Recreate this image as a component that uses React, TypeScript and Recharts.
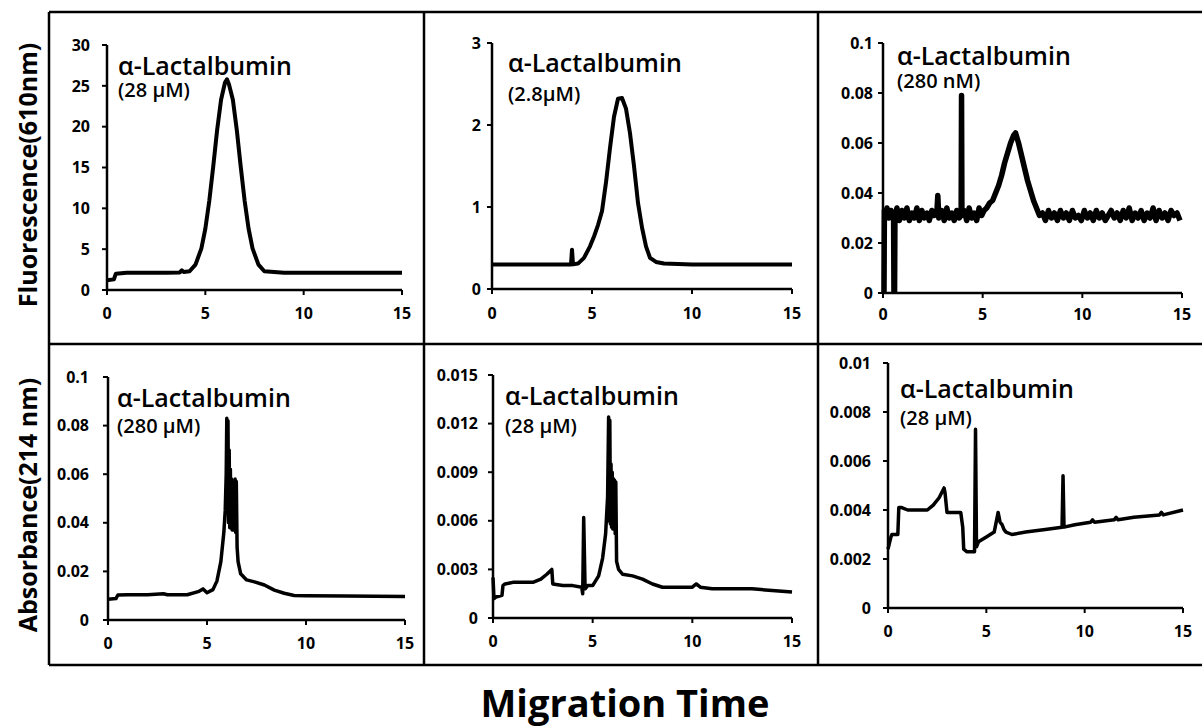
import { LineChart, Line, XAxis, YAxis } from 'recharts';

// Shared time axis (minutes)
const timeTicks = [0, 5, 10, 15];

// Fluorescence, 28 µM
const fl28Time = [0, 0.35, 0.45, 1, 2, 3, 3.7, 3.8, 3.9, 4.2, 4.5, 4.8, 5.0, 5.2, 5.4, 5.6, 5.8, 6.0, 6.1, 6.2, 6.4, 6.6, 6.8, 7.0, 7.2, 7.4, 7.7, 8.0, 9, 10, 12, 15];
const fl28Signal = [1.2, 1.3, 2.0, 2.1, 2.1, 2.1, 2.15, 2.4, 2.2, 2.3, 3.1, 5.1, 7.5, 10.9, 15.1, 19.6, 23.3, 25.4, 25.8, 25.2, 23.3, 19.6, 15.1, 10.9, 7.5, 5.1, 3.1, 2.3, 2.1, 2.1, 2.1, 2.1];
const fl28Ticks = [0, 5, 10, 15, 20, 25, 30];

// Fluorescence, 2.8 µM
const fl2p8Time = [0, 1, 2, 3, 3.95, 4.0, 4.05, 4.3, 4.6, 4.9, 5.1, 5.3, 5.5, 5.7, 5.9, 6.1, 6.3, 6.5, 6.7, 6.9, 7.1, 7.3, 7.5, 7.7, 7.9, 8.2, 8.6, 10, 12, 15];
const fl2p8Signal = [0.3, 0.3, 0.3, 0.3, 0.3, 0.48, 0.3, 0.31, 0.38, 0.52, 0.64, 0.78, 0.95, 1.3, 1.72, 2.1, 2.32, 2.33, 2.2, 1.9, 1.5, 1.05, 0.75, 0.52, 0.38, 0.33, 0.31, 0.3, 0.3, 0.3];
const fl2p8Ticks = [0, 1, 2, 3];

// Fluorescence, 280 nM (noisy baseline)
const fl280Time = [
  0.05, 0.07, 0.12, 0.2, 0.3, 0.4, 0.5, 0.53, 0.55, 0.58, 0.6, 0.7, 0.82, 0.95, 1.07, 1.2, 1.32, 1.45, 1.57, 1.7, 1.82,
  1.95, 2.07, 2.2, 2.32, 2.45, 2.57, 2.7, 2.75, 2.8, 2.95, 3.07, 3.2, 3.32, 3.45, 3.57, 3.7, 3.82, 3.92, 3.94, 3.96, 4.07,
  4.2, 4.32, 4.45, 4.57, 4.7, 4.82, 4.95, 5.07, 5.2, 5.35, 5.5, 5.65, 5.8, 5.95, 6.1, 6.25, 6.4, 6.55, 6.65, 6.8, 6.95,
  7.1, 7.25, 7.4, 7.55, 7.7, 7.85, 8.0, 8.15, 8.3, 8.45, 8.6, 8.75, 8.9, 9.05, 9.2, 9.35, 9.5, 9.65, 9.8, 9.95, 10.1,
  10.25, 10.4, 10.55, 10.7, 10.85, 11.0, 11.15, 11.3, 11.45, 11.6, 11.75, 11.9, 12.05, 12.2, 12.35, 12.5, 12.65, 12.8,
  12.95, 13.1, 13.25, 13.4, 13.55, 13.7, 13.85, 14.0, 14.15, 14.3, 14.45, 14.6, 14.75, 14.9, 15.0,
];
const fl280Signal = [
  0, 0.033, 0.031, 0.034, 0.03, 0.033, 0.031, 0.032, 0, 0, 0.031, 0.034, 0.029, 0.033, 0.03, 0.034, 0.029, 0.032, 0.03,
  0.034, 0.029, 0.033, 0.03, 0.032, 0.029, 0.033, 0.031, 0.032, 0.039, 0.03, 0.033, 0.029, 0.034, 0.03, 0.032, 0.029,
  0.033, 0.03, 0.031, 0.079, 0.031, 0.033, 0.029, 0.034, 0.03, 0.032, 0.029, 0.034, 0.031, 0.033, 0.034, 0.036, 0.037,
  0.04, 0.043, 0.047, 0.052, 0.056, 0.06, 0.063, 0.064, 0.06, 0.055, 0.05, 0.045, 0.041, 0.037, 0.034, 0.031, 0.032,
  0.029, 0.033, 0.03, 0.032, 0.029, 0.033, 0.03, 0.032, 0.029, 0.033, 0.03, 0.031, 0.029, 0.033, 0.03, 0.032, 0.029,
  0.033, 0.03, 0.032, 0.029, 0.031, 0.033, 0.03, 0.032, 0.029, 0.033, 0.03, 0.034, 0.029, 0.032, 0.03, 0.033, 0.029,
  0.032, 0.03, 0.034, 0.029, 0.033, 0.03, 0.032, 0.029, 0.033, 0.031, 0.032, 0.029,
];
const fl280Ticks = [0, 0.02, 0.04, 0.06, 0.08, 0.1];

// Absorbance, 280 µM
const abs280Time = [0, 0.4, 0.5, 1, 2, 2.8, 3.0, 4, 4.6, 4.8, 5.0, 5.3, 5.5, 5.7, 5.85, 5.92, 5.97, 6.0, 6.03, 6.06, 6.09, 6.12, 6.15, 6.18, 6.21, 6.24, 6.27, 6.3, 6.33, 6.36, 6.39, 6.42, 6.45, 6.48, 6.52, 6.57, 6.7, 7.0, 7.4, 7.9, 8.4, 8.9, 9.4, 10, 12, 15];
const abs280Signal = [0.0085, 0.0088, 0.0103, 0.0104, 0.0104, 0.0108, 0.0104, 0.0104, 0.0118, 0.0128, 0.0112, 0.0125, 0.016, 0.024, 0.036, 0.045, 0.06, 0.083, 0.05, 0.082, 0.04, 0.07, 0.038, 0.062, 0.039, 0.058, 0.037, 0.056, 0.038, 0.055, 0.037, 0.058, 0.036, 0.057, 0.03, 0.024, 0.019, 0.0165, 0.0157, 0.0144, 0.0123, 0.011, 0.0101, 0.01, 0.0099, 0.0097];
const abs280Ticks = [0, 0.02, 0.04, 0.06, 0.08, 0.1];

// Absorbance, 28 µM
const abs28Time = [0, 0.05, 0.15, 0.45, 0.5, 0.6, 1, 1.5, 2.0, 2.4, 2.7, 2.95, 3.0, 3.5, 4.0, 4.45, 4.5, 4.55, 4.62, 4.75, 5.0, 5.3, 5.5, 5.65, 5.75, 5.8, 5.83, 5.86, 5.89, 5.92, 5.95, 5.98, 6.01, 6.04, 6.07, 6.1, 6.13, 6.16, 6.2, 6.3, 6.5, 7.0, 7.5, 8.0, 8.5, 9, 10, 10.2, 10.4, 11, 12, 13, 14, 15];
const abs28Signal = [0.0025, 0.0012, 0.0013, 0.0014, 0.002, 0.0021, 0.0022, 0.0022, 0.0022, 0.0024, 0.0027, 0.003, 0.0021, 0.002, 0.002, 0.0019, 0.0015, 0.0062, 0.0018, 0.002, 0.002, 0.0026, 0.0037, 0.0052, 0.0075, 0.0124, 0.006, 0.0122, 0.0058, 0.0095, 0.0056, 0.009, 0.0055, 0.0086, 0.0055, 0.0085, 0.0052, 0.0084, 0.0035, 0.003, 0.0027, 0.0026, 0.0024, 0.0021, 0.0019, 0.0019, 0.0019, 0.0021, 0.0019, 0.0018, 0.0018, 0.0018, 0.0017, 0.0016];
const abs28Ticks = [0, 0.003, 0.006, 0.009, 0.012, 0.015];

// Absorbance, 28 µM (second run)
const abs28bTime = [0, 0.15, 0.2, 0.5, 0.55, 0.7, 1.0, 1.5, 2.0, 2.3, 2.6, 2.85, 2.9, 3.0, 3.5, 3.7, 3.8, 3.85, 4.0, 4.3, 4.4, 4.45, 4.5, 4.55, 4.6, 5.0, 5.4, 5.6, 5.7, 5.8, 5.9, 6.0, 6.3, 7, 8, 8.85, 8.9, 8.95, 9.5, 10.3, 10.4, 10.5, 11.5, 11.6, 11.7, 12.5, 13.8, 13.9, 14, 15];
const abs28bSignal = [0.0024, 0.0029, 0.003, 0.003, 0.0041, 0.0041, 0.004, 0.004, 0.004, 0.0042, 0.0045, 0.0049, 0.0047, 0.0039, 0.0039, 0.0039, 0.0033, 0.0024, 0.0023, 0.0023, 0.0023, 0.0073, 0.0025, 0.0026, 0.0027, 0.0029, 0.0031, 0.0039, 0.0035, 0.0034, 0.0032, 0.0031, 0.003, 0.0031, 0.0032, 0.0033, 0.0054, 0.0033, 0.0034, 0.0035, 0.0036, 0.0035, 0.0036, 0.0037, 0.0036, 0.0037, 0.0038, 0.0039, 0.0038, 0.004];
const abs28bTicks = [0, 0.002, 0.004, 0.006, 0.008, 0.01];

const FONT = '"Open Sans", sans-serif';
const Y_AXIS_W = 70;
const X_AXIS_H = 40;
const PAD_TOP = 16;
const PAD_RIGHT = 14;

const toPoints = (time: number[], signal: number[]) => time.map((t, i) => ({ t, v: signal[i] }));

interface PanelProps {
  time: number[];
  signal: number[];
  yTicks: number[];
  // plot area in page pixels
  left: number;
  top: number;
  right: number;
  bottom: number;
  strokeWidth: number;
  yTickGap: number;
  xTickGap: number;
  name: string;
  conc: string;
  nameDy: number;
  concDy: number;
  textDx: number;
}

function Panel(p: PanelProps) {
  const plotW = p.right - p.left;
  const plotH = p.bottom - p.top;
  const data = toPoints(p.time, p.signal);
  const tickStyle = { fill: '#000', fontSize: 16, fontWeight: 700, fontFamily: FONT };
  return (
    <div style={{ position: 'absolute', left: p.left - Y_AXIS_W, top: p.top - PAD_TOP }}>
      <LineChart
        width={plotW + Y_AXIS_W + PAD_RIGHT}
        height={plotH + PAD_TOP + X_AXIS_H}
        data={data}
        margin={{ top: PAD_TOP, right: PAD_RIGHT, left: 0, bottom: 0 }}
      >
        <XAxis
          dataKey="t"
          type="number"
          domain={[0, 15]}
          ticks={timeTicks}
          interval={0}
          height={X_AXIS_H}
          axisLine={{ stroke: '#000', strokeWidth: 2.5 }}
          tickLine={{ stroke: '#000', strokeWidth: 2 }}
          tickSize={5}
          tickMargin={p.xTickGap}
          tick={tickStyle}
        />
        <YAxis
          type="number"
          domain={[p.yTicks[0], p.yTicks[p.yTicks.length - 1]]}
          ticks={p.yTicks}
          interval={0}
          width={Y_AXIS_W}
          allowDataOverflow
          axisLine={{ stroke: '#000', strokeWidth: 2.5 }}
          tickLine={{ stroke: '#000', strokeWidth: 2 }}
          tickSize={5}
          tickMargin={p.yTickGap}
          tick={tickStyle}
        />
        <Line
          dataKey="v"
          type="linear"
          stroke="#000"
          strokeWidth={p.strokeWidth}
          strokeLinejoin="round"
          dot={false}
          isAnimationActive={false}
        />
      </LineChart>
      {/* sample name and concentration, drawn over the plot area */}
      <svg
        width={plotW + Y_AXIS_W}
        height={plotH + PAD_TOP}
        style={{ position: 'absolute', left: 0, top: 0, pointerEvents: 'none' }}
      >
        <text x={Y_AXIS_W + p.textDx} y={PAD_TOP + p.nameDy} fontFamily={FONT} fontWeight={600} fontSize={25} fill="#000">
          {p.name}
        </text>
        <text x={Y_AXIS_W + p.textDx} y={PAD_TOP + p.concDy} fontFamily={FONT} fontWeight={600} fontSize={20} fill="#000">
          {p.conc}
        </text>
      </svg>
    </div>
  );
}

export default function App() {
  const label = 'α-Lactalbumin';
  return (
    <div style={{ position: 'absolute', left: 0, top: 0, width: 1202, height: 727, background: '#fff', overflow: 'hidden' }}>
      <svg width={1202} height={727} style={{ position: 'absolute', left: 0, top: 0 }}>
        {/* grid frame */}
        <line x1={49} y1={12} x2={1202} y2={12} stroke="#000" strokeWidth={2.5} />
        <line x1={49} y1={665} x2={1202} y2={665} stroke="#000" strokeWidth={2.5} />
        <line x1={49} y1={12} x2={49} y2={665} stroke="#000" strokeWidth={2.5} />
        <line x1={424} y1={12} x2={424} y2={665} stroke="#000" strokeWidth={2.5} />
        <line x1={818} y1={12} x2={818} y2={665} stroke="#000" strokeWidth={2.5} />
        <line x1={49} y1={344} x2={1202} y2={344} stroke="#000" strokeWidth={2.5} />
        <text transform="translate(37,175) rotate(-90)" textAnchor="middle" fontFamily={FONT} fontWeight={700} fontSize={25} fill="#000">
          Fluorescence(610nm)
        </text>
        <text transform="translate(37,505) rotate(-90)" textAnchor="middle" fontFamily={FONT} fontWeight={700} fontSize={25} fill="#000">
          Absorbance(214 nm)
        </text>
        <text x={625} y={717} textAnchor="middle" fontFamily={FONT} fontWeight={700} fontSize={38} fill="#000">
          Migration Time
        </text>
      </svg>

      <Panel time={fl28Time} signal={fl28Signal} yTicks={fl28Ticks} left={107} top={45} right={402} bottom={290}
        strokeWidth={4} yTickGap={12} xTickGap={13} name={label} conc="(28 µM)" nameDy={30} concDy={52} textDx={11} />
      <Panel time={fl2p8Time} signal={fl2p8Signal} yTicks={fl2p8Ticks} left={492} top={43} right={792} bottom={289}
        strokeWidth={4} yTickGap={6} xTickGap={14} name={label} conc="(2.8µM)" nameDy={29} concDy={58} textDx={16} />
      <Panel time={fl280Time} signal={fl280Signal} yTicks={fl280Ticks} left={883} top={43} right={1182} bottom={293}
        strokeWidth={5.5} yTickGap={5} xTickGap={11} name={label} conc="(280 nM)" nameDy={22} concDy={45} textDx={14} />
      <Panel time={abs280Time} signal={abs280Signal} yTicks={abs280Ticks} left={108} top={377} right={405} bottom={620}
        strokeWidth={3.5} yTickGap={14} xTickGap={13} name={label} conc="(280 µM)" nameDy={30} concDy={56} textDx={9} />
      <Panel time={abs28Time} signal={abs28Signal} yTicks={abs28Ticks} left={493} top={375} right={792} bottom={618}
        strokeWidth={3.5} yTickGap={10} xTickGap={13} name={label} conc="(28 µM)" nameDy={30} concDy={58} textDx={12} />
      <Panel time={abs28bTime} signal={abs28bSignal} yTicks={abs28bTicks} left={888} top={363} right={1183} bottom={608}
        strokeWidth={3.5} yTickGap={12} xTickGap={13} name={label} conc="(28 µM)" nameDy={35} concDy={62} textDx={12} />
    </div>
  );
}
